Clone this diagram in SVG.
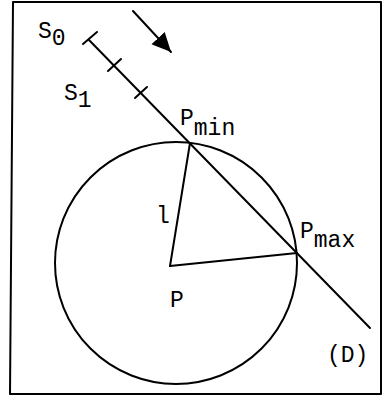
<svg xmlns="http://www.w3.org/2000/svg" width="383" height="401" viewBox="0 0 383 401">
<style>
.ln{stroke:#000;stroke-width:2;fill:none;stroke-linecap:round;stroke-linejoin:round}
.t{font-family:"Liberation Mono","Courier New",monospace;font-size:23px;fill:#000}
</style>
<defs>
<marker id="ah" markerUnits="userSpaceOnUse" markerWidth="22" markerHeight="20" refX="19" refY="9" orient="auto">
<path d="M0,0 L19,9 L0,18 Z" fill="#000"/>
</marker>
</defs>
<rect width="383" height="401" fill="#fff"/>
<g id="frame"><path class="ln" d="M13,2 L381,2 L381,394 L10,394 Z"/></g>
<g id="circle"><circle cx="176" cy="263" r="121" class="ln" stroke-width="2.5"/></g>
<g id="connectors">
<path class="ln" d="M89,40 L370,328"/>
<path class="ln" d="M83,44 L97,32"/>
<path class="ln" d="M108,71 L121,59"/>
<path class="ln" d="M135,98 L147,87"/>
<path class="ln" d="M170,266 L190,143"/>
<path class="ln" d="M170,266 L297,253"/>
<path class="ln" d="M133,11 L171,52" marker-end="url(#ah)"/>
</g>
<g id="labels">
<text class="t" x="38" y="38">S<tspan dy="7">0</tspan></text>
<text class="t" x="64" y="100">S<tspan dy="7">1</tspan></text>
<text class="t" x="180" y="125">P<tspan dy="10">min</tspan></text>
<text class="t" x="300" y="238">P<tspan dy="9">max</tspan></text>
<text class="t" x="156" y="223">l</text>
<text class="t" x="170" y="307">P</text>
<text class="t" x="327" y="362">(D)</text>
</g>
</svg>
